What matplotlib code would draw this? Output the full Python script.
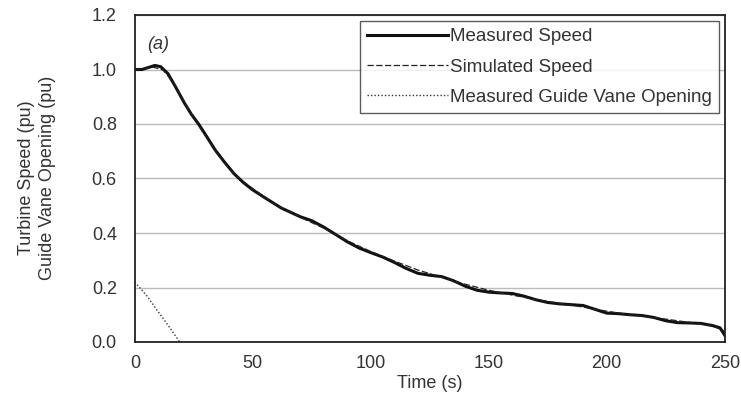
import numpy as np
import matplotlib
matplotlib.use('Agg')
import matplotlib.pyplot as plt

plt.rcParams['font.family'] = ['Liberation Sans', 'DejaVu Sans']

# measured turbine speed (pu)
t_meas = [0, 3, 6, 8.5, 11, 14, 17, 21, 24, 27, 30, 34, 38, 42, 46, 50, 55, 62, 70, 75,
          80, 85, 90, 95, 100, 105, 110, 115, 120, 125, 130, 135, 140, 145, 150, 155,
          160, 165, 170, 175, 180, 185, 190, 195, 200, 205, 210, 215, 220, 225, 230,
          235, 240, 245, 248, 250]
speed_meas = [1.0, 1.0, 1.008, 1.015, 1.01, 0.985, 0.94, 0.877, 0.835, 0.80, 0.76, 0.705,
              0.66, 0.618, 0.585, 0.558, 0.53, 0.492, 0.46, 0.445, 0.422, 0.395, 0.368,
              0.345, 0.328, 0.312, 0.292, 0.27, 0.252, 0.245, 0.24, 0.225, 0.205, 0.19,
              0.183, 0.18, 0.178, 0.168, 0.155, 0.145, 0.14, 0.137, 0.134, 0.12, 0.106,
              0.104, 0.1, 0.097, 0.09, 0.078, 0.071, 0.07, 0.068, 0.06, 0.052, 0.025]

# simulated turbine speed (pu)
t_sim = [0, 4, 8, 12, 16, 20, 25, 30, 35, 40, 45, 50, 60, 70, 80, 90, 100, 110, 120, 130,
         140, 150, 160, 170, 180, 190, 200, 210, 220, 230, 240, 245, 250]
speed_sim = [1.0, 1.003, 1.008, 0.998, 0.955, 0.895, 0.82, 0.755, 0.69, 0.635, 0.595, 0.563,
             0.502, 0.458, 0.418, 0.372, 0.332, 0.297, 0.264, 0.238, 0.212, 0.19, 0.172,
             0.156, 0.142, 0.128, 0.113, 0.1, 0.09, 0.078, 0.066, 0.058, 0.04]

# measured guide vane opening (pu)
t_gv = [0, 5, 10, 15, 19]
gv_meas = [0.22, 0.17, 0.11, 0.05, 0.0]

fig = plt.figure(figsize=(7.41, 4.0), dpi=100)
ax = fig.add_axes([0.182, 0.145, 0.796, 0.8175])

txt = '#333333'
fs = 13
ax.plot(t_meas, speed_meas, color='#111111', lw=2.2, label='Measured Speed')
ax.plot(t_sim, speed_sim, color='#222222', lw=0.9, ls=(0, (5, 2)), label='Simulated Speed')
ax.plot(t_gv, gv_meas, color='#333333', lw=1.0, ls=(0, (1, 1.5)), label='Measured Guide Vane Opening')

ax.set_xlim(0, 250)
ax.set_ylim(0, 1.2)
ax.set_xticks([0, 50, 100, 150, 200, 250])
ax.set_yticks(np.arange(0, 1.21, 0.2))
ax.yaxis.set_major_formatter(matplotlib.ticker.FormatStrFormatter('%.1f'))
ax.tick_params(length=0, labelsize=fs, colors=txt)
ax.tick_params(axis='y', pad=13)
ax.tick_params(axis='x', pad=9)
ax.yaxis.grid(True, color='#bbbbbb', lw=1.0)
ax.set_axisbelow(True)
for s in ax.spines.values():
    s.set_color('#222222')
    s.set_linewidth(1.3)

fig.text(0.58, 0.04, 'Time (s)', fontsize=fs, color=txt, ha='center', va='center')
fig.text(0.05, 0.555, 'Turbine Speed (pu)\nGuide Vane Opening (pu)', fontsize=fs,
         color=txt, ha='center', va='center', rotation=90, multialignment='center',
         linespacing=1.25)
ax.text(0.02, 0.935, '(a)', transform=ax.transAxes, fontsize=fs, style='italic',
        color=txt, va='top')

leg = ax.legend(loc='upper right', fontsize=13.5, frameon=True, fancybox=False,
                edgecolor='#333333', handlelength=4.3, handletextpad=0.1,
                borderaxespad=0.3, labelspacing=0.7, borderpad=0.4)
leg.get_frame().set_linewidth(1.0)
for t in leg.get_texts():
    t.set_color(txt)

fig.savefig('out.png', dpi=100)
